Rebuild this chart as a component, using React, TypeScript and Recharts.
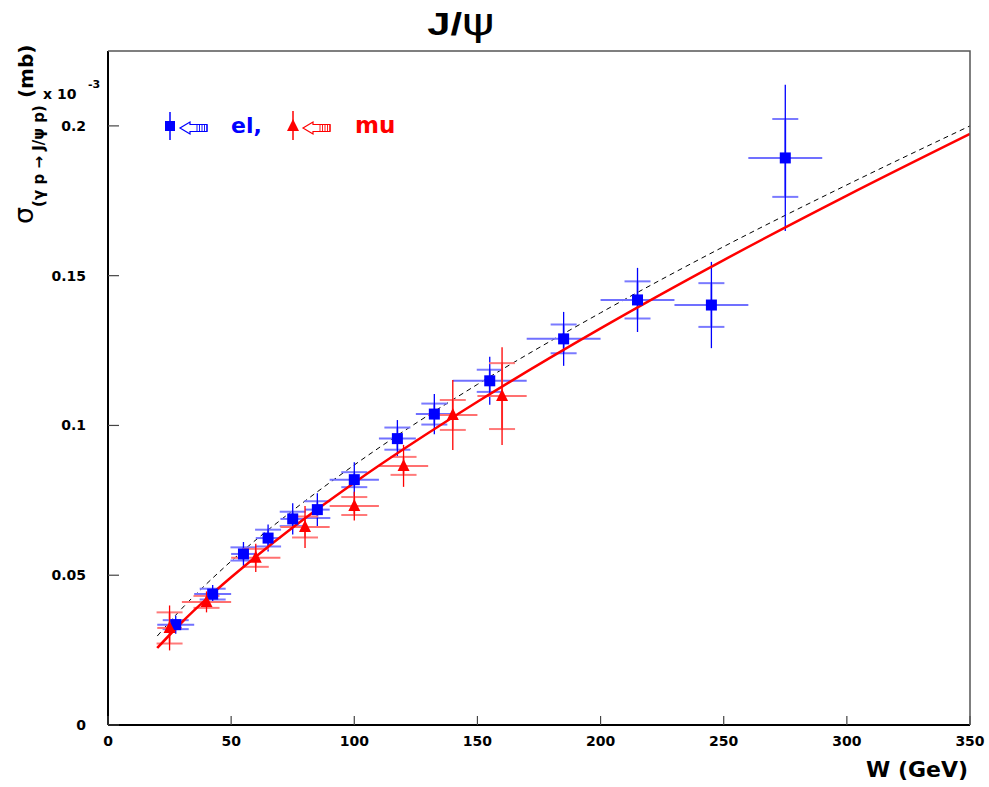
import { ComposedChart, Scatter, Line, XAxis, YAxis, ErrorBar } from 'recharts'

// electron channel (blue squares)
const elW = [27.5, 42.5, 55, 65, 75, 85, 100, 117.5, 132.5, 155, 185, 215, 245, 275]
const elSigma = [0.0335, 0.0437, 0.0571, 0.0624, 0.0688, 0.0719, 0.0819, 0.0956, 0.1038, 0.1149, 0.1289, 0.1419, 0.1402, 0.1893]
const elBinHalf = [7.5, 7.5, 5, 5, 5, 5, 10, 7.5, 7.5, 15, 15, 15, 15, 15]
const elTotErr = [0.003, 0.003, 0.004, 0.0045, 0.0052, 0.0055, 0.0058, 0.0062, 0.0067, 0.008, 0.009, 0.0107, 0.0144, 0.0244]
const elStatErr = [0.0015, 0.0018, 0.0022, 0.0028, 0.0024, 0.0028, 0.0025, 0.0037, 0.0035, 0.0037, 0.0048, 0.0062, 0.0073, 0.013]

// muon channel (red triangles)
const muW = [25, 40, 60, 80, 100, 120, 140, 160]
const muSigma = [0.0324, 0.0411, 0.0558, 0.0661, 0.0731, 0.0865, 0.1035, 0.1098]
const muBinHalf = [5, 10, 10, 10, 10, 10, 10, 10]
const muTotErr = [0.0075, 0.0035, 0.0047, 0.007, 0.0048, 0.007, 0.0117, 0.0163]
const muStatErr = [0.0052, 0.002, 0.003, 0.0035, 0.003, 0.003, 0.005, 0.011]

// fit curves
const fitW = [20, 30, 40, 50, 75, 100, 150, 200, 250, 300, 350]
const redFit = [0.0257, 0.0343, 0.0421, 0.0493, 0.0659, 0.0809, 0.1079, 0.1324, 0.1552, 0.1767, 0.1973]
const dashFit = [0.0297, 0.0389, 0.0471, 0.0547, 0.0716, 0.0868, 0.1137, 0.1376, 0.1597, 0.1803, 0.2]

const xTicks = [0, 50, 100, 150, 200, 250, 300, 350]
const yTicks = [0, 0.05, 0.1, 0.15, 0.2]
const yTickLabels = ['0', '0.05', '0.1', '0.15', '0.2']

const elData = elW.map((w, i) => ({ w, s: elSigma[i], ex: elBinHalf[i], tot: elTotErr[i], stat: elStatErr[i] }))
const muData = muW.map((w, i) => ({ w, s: muSigma[i], ex: muBinHalf[i], tot: muTotErr[i], stat: muStatErr[i] }))
const redFitData = fitW.map((w, i) => ({ w, s: redFit[i] }))
const dashFitData = fitW.map((w, i) => ({ w, s: dashFit[i] }))

const W = 989
const H = 787
const M = { top: 51, right: 19, left: 0, bottom: 0 }
const Y_AXIS_W = 108
const X_AXIS_H = 62
const plotL = M.left + Y_AXIS_W
const plotR = W - M.right
const plotT = M.top
const plotB = H - M.bottom - X_AXIS_H

const FONT = '"DejaVu Sans", sans-serif'

const Square = (props: any) => (
  <rect x={props.cx - 5.5} y={props.cy - 5.5} width={11} height={11} fill="#0000ff" />
)

const Triangle = (props: any) => (
  <polygon
    points={`${props.cx},${props.cy - 7} ${props.cx - 6},${props.cy + 5} ${props.cx + 6},${props.cy + 5}`}
    fill="#ff0000"
  />
)

const YTick = (props: any) => {
  const { x, y, index } = props
  return (
    <g>
      <text x={x} y={y} dy="0.36em" textAnchor="end" fontFamily={FONT} fontWeight="bold" fontSize={14} fill="#000">
        {yTickLabels[index]}
      </text>
      <line x1={x + 22} x2={x + 33} y1={y} y2={y} stroke="#444" strokeWidth={1.2} />
    </g>
  )
}

const XTick = (props: any) => {
  const { x, y, payload } = props
  return (
    <g>
      <text x={x} y={y} dy="0.71em" textAnchor="middle" fontFamily={FONT} fontWeight="bold" fontSize={14} fill="#000">
        {payload.value}
      </text>
      <line x1={x} x2={x} y1={y - 11} y2={y - 20} stroke="#444" strokeWidth={1.2} />
    </g>
  )
}

function LegendArrow({ x, y, color }: { x: number; y: number; color: string }) {
  const hatch = []
  for (let i = 0; i < 5; i++) hatch.push(<line key={i} x1={x + 17 + i * 2.5} x2={x + 17 + i * 2.5} y1={y - 3.5} y2={y + 3.5} stroke={color} strokeWidth={0.9} />)
  return (
    <g fill="none" stroke={color} strokeWidth={1.2}>
      <path d={`M${x},${y} L${x + 10},${y - 6} L${x + 10},${y - 3.5} L${x + 27},${y - 3.5} L${x + 27},${y + 3.5} L${x + 10},${y + 3.5} L${x + 10},${y + 6} Z`} />
      {hatch}
    </g>
  )
}

export default function App() {
  return (
    <div style={{ position: 'absolute', left: 0, top: 0, width: W, height: H, background: '#fff' }}>
      <ComposedChart width={W} height={H} margin={M}>
        <XAxis
          dataKey="w"
          type="number"
          domain={[0, 350]}
          ticks={xTicks}
          height={X_AXIS_H}
          tickSize={0}
          tickMargin={11}
          tick={<XTick />}
          axisLine={{ stroke: '#000', strokeWidth: 2 }}
          allowDataOverflow
        />
        <YAxis
          dataKey="s"
          type="number"
          domain={[0, 0.225]}
          ticks={yTicks}
          width={Y_AXIS_W}
          tickSize={0}
          tickMargin={22}
          tick={<YTick />}
          axisLine={{ stroke: '#000', strokeWidth: 2 }}
          allowDataOverflow
        />
        <Line data={dashFitData} dataKey="s" type="monotone" stroke="#000" strokeWidth={1} strokeDasharray="5 4" dot={false} isAnimationActive={false} />
        <Scatter data={elData} dataKey="s" shape={<Square />} isAnimationActive={false}>
          <ErrorBar dataKey="ex" direction="x" width={0} stroke="#7070ff" strokeWidth={2} />
          <ErrorBar dataKey="stat" direction="y" width={13} stroke="#7a7aff" strokeWidth={2} />
          <ErrorBar dataKey="tot" direction="y" width={0} stroke="#0000ff" strokeWidth={1.3} />
        </Scatter>
        <Scatter data={muData} dataKey="s" shape={<Triangle />} isAnimationActive={false}>
          <ErrorBar dataKey="ex" direction="x" width={0} stroke="#ff7070" strokeWidth={2} />
          <ErrorBar dataKey="stat" direction="y" width={13} stroke="#ff7a7a" strokeWidth={2} />
          <ErrorBar dataKey="tot" direction="y" width={0} stroke="#ff0000" strokeWidth={1.3} />
        </Scatter>
        <Line data={redFitData} dataKey="s" type="monotone" stroke="#ff0000" strokeWidth={2.5} dot={false} isAnimationActive={false} />
      </ComposedChart>

      <svg width={W} height={H} style={{ position: 'absolute', left: 0, top: 0, pointerEvents: 'none' }}>
        {/* frame top + right */}
        <polyline points={`${plotL},${plotT} ${plotR},${plotT} ${plotR},${plotB}`} fill="none" stroke="#555" strokeWidth={1.5} />

        {/* title */}
        <text transform="translate(461,35) scale(1.3,1)" textAnchor="middle" fontFamily='"Liberation Sans", sans-serif' fontWeight="bold" fontSize={32} fill="#000">
          J/<tspan fontWeight="normal" fontFamily={FONT} fontSize={38}>ψ</tspan>
        </text>

        {/* y label */}
        <text transform="translate(33,224) rotate(-90)" fontFamily={FONT} fill="#000">
          <tspan fontSize={27}>σ</tspan>
          <tspan fontSize={15} fontWeight="bold" dy={11}>(γ p → J/ψ p)</tspan>
          <tspan fontSize={20} fontWeight="bold" dy={-11}> (mb)</tspan>
        </text>
        <text x={43} y={99} fontFamily={FONT} fontWeight="bold" fontSize={14} fill="#000">x 10</text>
        <text x={88} y={88} fontFamily={FONT} fontWeight="bold" fontSize={11} fill="#000">-3</text>

        {/* legend */}
        <line x1={170} x2={170} y1={112} y2={140} stroke="#0000ff" strokeWidth={1.5} />
        <rect x={165} y={121} width={10} height={10} fill="#0000ff" />
        <LegendArrow x={180} y={128} color="#0000ff" />
        <text x={231} y={133} fontFamily={FONT} fontWeight="bold" fontSize={22} fill="#0000ff">el,</text>
        <line x1={293} x2={293} y1={111} y2={140} stroke="#ff0000" strokeWidth={1.5} />
        <polygon points="293,119 287,131 299,131" fill="#ff0000" />
        <LegendArrow x={303} y={128} color="#ff0000" />
        <text x={355} y={133} fontFamily={FONT} fontWeight="bold" fontSize={23} fill="#ff0000">mu</text>

        {/* x label */}
        <text x={968} y={777} textAnchor="end" fontFamily={FONT} fontWeight="bold" fontSize={22} fill="#000">W (GeV)</text>
      </svg>
    </div>
  )
}
